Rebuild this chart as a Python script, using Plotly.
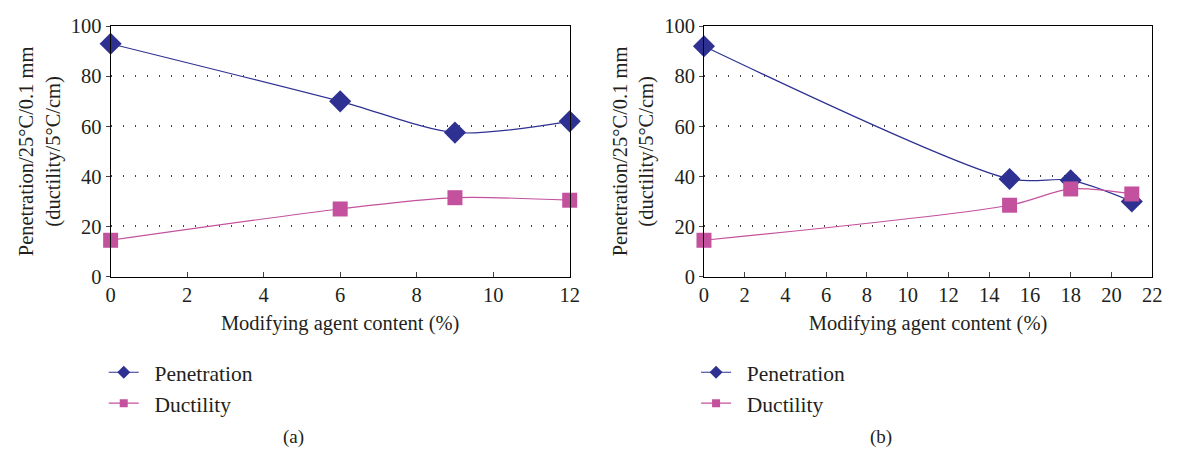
import plotly.graph_objects as go

x_a = [0, 6, 9, 12]
pen_a = [93, 70, 57.5, 62]
duc_a = [14.5, 27, 31.5, 30.5]

x_b = [0, 15, 18, 21]
pen_b = [92, 39, 38.5, 30]
duc_b = [14.5, 28.5, 35, 33]

PEN_COLOR = "#2E3192"
DUC_COLOR = "#C4519E"
FONT = "Liberation Serif"
TXT = "#231F20"
W, H = 1177, 457

fig = go.Figure()

def add_series(x, pen, duc, xa, ya, legend):
    fig.add_trace(go.Scatter(x=x, y=pen, mode="lines+markers", name="Penetration",
                             line=dict(color=PEN_COLOR, width=1.2, shape="spline", smoothing=0.8),
                             marker=dict(symbol="diamond", size=17, color=PEN_COLOR),
                             xaxis=xa, yaxis=ya, showlegend=False, cliponaxis=False))
    fig.add_trace(go.Scatter(x=x, y=duc, mode="lines+markers", name="Ductility",
                             line=dict(color=DUC_COLOR, width=1.2, shape="spline", smoothing=0.8),
                             marker=dict(symbol="square", size=15, color=DUC_COLOR),
                             xaxis=xa, yaxis=ya, showlegend=False, cliponaxis=False))
    # legend entries (smaller markers, as in the reference legend)
    fig.add_trace(go.Scatter(x=[None], y=[None], mode="lines+markers", name="  Penetration",
                             line=dict(color=PEN_COLOR, width=1.2),
                             marker=dict(symbol="diamond", size=10, color=PEN_COLOR),
                             xaxis=xa, yaxis=ya, legend=legend))
    fig.add_trace(go.Scatter(x=[None], y=[None], mode="lines+markers", name="  Ductility",
                             line=dict(color=DUC_COLOR, width=1.2),
                             marker=dict(symbol="square", size=8, color=DUC_COLOR),
                             xaxis=xa, yaxis=ya, legend=legend))

add_series(x_a, pen_a, duc_a, "x", "y", "legend")
add_series(x_b, pen_b, duc_b, "x2", "y2", "legend2")

ydom = [(H - 279) / H, (H - 16) / H]
axis_common = dict(showline=True, linecolor="black", linewidth=1, mirror=True,
                   tickfont=dict(family=FONT, size=20.5, color=TXT),
                   zeroline=False)
ytitle = "Penetration/25°C/0.1 mm<br>(ductility/5°C/cm)"
xtitle = "Modifying agent content (%)"
grid = dict(showgrid=True, gridcolor="#444", griddash="1.5px,10.5px", gridwidth=1.5)

fig.update_layout(
    width=W, height=H, margin=dict(l=0, r=0, t=0, b=0),
    plot_bgcolor="white", paper_bgcolor="white",
    font=dict(family=FONT, size=20.5, color=TXT),
    xaxis=dict(domain=[107 / W, 572 / W], range=[0, 12], dtick=2, anchor="y",
               ticks="inside", ticklen=5, showgrid=False,
               title=dict(text=xtitle, standoff=10, font=dict(size=20.5)), **axis_common),
    yaxis=dict(domain=ydom, range=[0, 100], dtick=20, anchor="x",
               ticks="outside", ticklen=4, **grid,
               title=dict(text=ytitle, standoff=4, font=dict(size=20.5)), **axis_common),
    xaxis2=dict(domain=[708 / W, 1162 / W], range=[0, 22], dtick=2, anchor="y2",
                ticks="inside", ticklen=5, showgrid=False,
                title=dict(text=xtitle, standoff=10, font=dict(size=20.5)), **axis_common),
    yaxis2=dict(domain=ydom, range=[0, 100], dtick=20, anchor="x2",
                ticks="outside", ticklen=4, **grid,
                title=dict(text=ytitle, standoff=4, font=dict(size=20.5)), **axis_common),
    legend=dict(x=100 / W, y=1 - 358 / H, xanchor="left", yanchor="top",
                font=dict(family=FONT, size=21.5), bgcolor="rgba(0,0,0,0)",
                tracegroupgap=0),
    legend2=dict(x=700 / W, y=1 - 358 / H, xanchor="left", yanchor="top",
                 font=dict(family=FONT, size=21.5), bgcolor="rgba(0,0,0,0)",
                 tracegroupgap=0),
    annotations=[
        dict(text="(a)", x=292 / W, y=1 - 448 / H, xref="paper", yref="paper",
             xanchor="center", yanchor="middle",
             showarrow=False, font=dict(family=FONT, size=19)),
        dict(text="(b)", x=887 / W, y=1 - 448 / H, xref="paper", yref="paper",
             xanchor="center", yanchor="middle",
             showarrow=False, font=dict(family=FONT, size=19)),
    ],
)

fig.write_html("out.html")
